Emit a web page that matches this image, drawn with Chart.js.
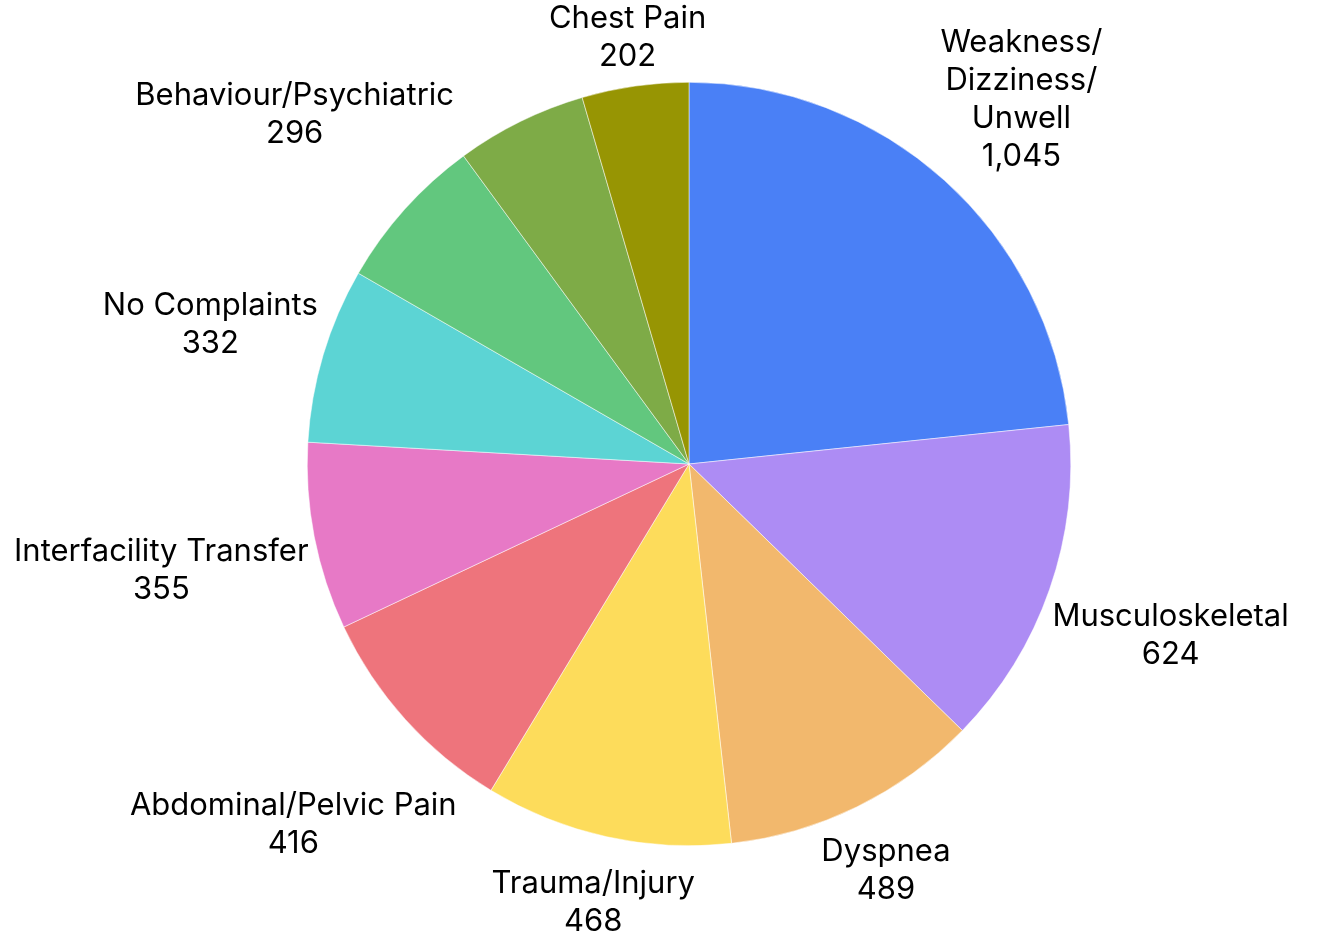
<!DOCTYPE html>
<html>
<head>
<meta charset="utf-8">
<script src="https://cdn.jsdelivr.net/npm/chart.js@4/dist/chart.umd.min.js"></script>
<style>
  html, body { margin: 0; padding: 0; background: #fff; }
</style>
</head>
<body>
<canvas id="complaintsPie" width="1318" height="932"></canvas>
<script>
// Chart data
const categories = [
    'Weakness/Dizziness/Unwell', 'Musculoskeletal', 'Dyspnea', 'Trauma/Injury',
    'Abdominal/Pelvic Pain', 'Interfacility Transfer', 'No Complaints',
    'Behaviour/Psychiatric', 'Other', 'Chest Pain'
];
const counts = [1045, 624, 489, 468, 416, 355, 332, 296, 248, 202];
const sliceColors = [
    '#4a80f6', '#ad8cf4', '#f2b86d', '#fddc5b', '#ee747c',
    '#e779c6', '#5cd4d4', '#62c77e', '#7eab47', '#979503'
];
// the reference shows no label for this slice
const hiddenLabels = ['Other'];

const FONT_SIZE = 31;
const LINE_H = 38;
const GAP = 4;
const TEXT_DROP = 4;

function splitLabel(ctx, text) {
    // long names are broken at every slash
    if (ctx.measureText(text).width > 340 && text.includes('/')) {
        const parts = text.split('/');
        return parts.map((p, i) => i < parts.length - 1 ? p + '/' : p);
    }
    return [text];
}

const outsideLabels = {
    id: 'outsideLabels',
    afterDatasetsDraw(chart) {
        const ctx = chart.ctx;
        const meta = chart.getDatasetMeta(0);
        ctx.save();
        ctx.font = FONT_SIZE + 'px Inter, "Noto Sans", sans-serif';
        ctx.fillStyle = '#000';
        ctx.textAlign = 'center';
        ctx.textBaseline = 'middle';
        meta.data.forEach((arc, i) => {
            if (hiddenLabels.includes(categories[i])) return;
            const lines = splitLabel(ctx, categories[i]);
            lines.push(counts[i].toLocaleString('en-US'));
            const w = Math.max(...lines.map(l => ctx.measureText(l).width));
            const h = lines.length * LINE_H;
            const p = arc.getProps(['x', 'y', 'startAngle', 'endAngle', 'outerRadius'], true);
            const mid = (p.startAngle + p.endAngle) / 2;
            const ux = Math.cos(mid), uy = Math.sin(mid);
            // push the text block out until its near edge clears the rim
            const d = p.outerRadius + GAP + w / 2 * Math.abs(ux) + h / 2 * Math.abs(uy);
            const cx = p.x + d * ux, cy = p.y + d * uy + TEXT_DROP;
            lines.forEach((l, k) => ctx.fillText(l, cx, cy - h / 2 + LINE_H * (k + 0.5)));
        });
        ctx.restore();
    }
};

new Chart(document.getElementById('complaintsPie'), {
    type: 'pie',
    data: {
        labels: categories,
        datasets: [{
            data: counts,
            backgroundColor: sliceColors,
            borderColor: '#ffffff',
            borderWidth: 0.5
        }]
    },
    options: {
        responsive: false,
        animation: false,
        layout: { padding: { left: 307, right: 247, top: 82, bottom: 86 } },
        plugins: {
            legend: { display: false },
            tooltip: { enabled: false }
        }
    },
    plugins: [outsideLabels]
});
</script>
</body>
</html>
